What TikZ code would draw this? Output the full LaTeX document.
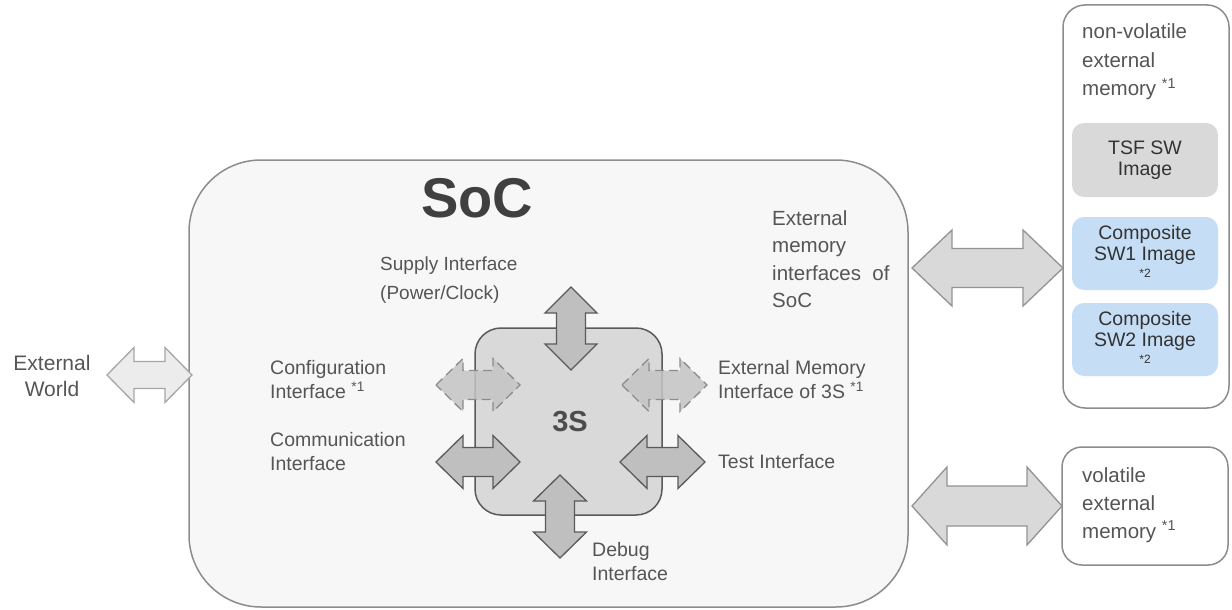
\documentclass[tikz,border=0pt]{standalone}
\usepackage{fontspec}
\setmainfont{Liberation Sans}
\definecolor{txt}{HTML}{555555}
\definecolor{soclc}{HTML}{8C8C8C}
\definecolor{socfill}{HTML}{F7F7F7}
\definecolor{ssfill}{HTML}{D9D9D9}
\definecolor{ssline}{HTML}{5A5A5A}
\definecolor{arrfill}{HTML}{BFBFBF}
\definecolor{dashfill}{HTML}{C4C4C4}
\definecolor{bluefill}{HTML}{C6DEF5}
\newcommand\HArrow[7]{%
\path[#1] (#2,#4) -- ({#2+#5},{#4-#6}) -- ({#2+#5},{#4-#7}) -- ({#3-#5},{#4-#7}) -- ({#3-#5},{#4-#6}) -- (#3,#4) -- ({#3-#5},{#4+#6}) -- ({#3-#5},{#4+#7}) -- ({#2+#5},{#4+#7}) -- ({#2+#5},{#4+#6}) -- cycle;}
\newcommand\VArrow[7]{%
\path[#1] (#2,#3) -- ({#2+#6},{#3+#5}) -- ({#2+#7},{#3+#5}) -- ({#2+#7},{#4-#5}) -- ({#2+#6},{#4-#5}) -- (#2,#4) -- ({#2-#6},{#4-#5}) -- ({#2-#7},{#4-#5}) -- ({#2-#7},{#3+#5}) -- ({#2-#6},{#3+#5}) -- cycle;}
\begin{document}
\begin{tikzpicture}[x=1pt,y=-1pt,
  lbl/.style={text=txt,font=\fontsize{19.5}{24}\selectfont,align=left,anchor=west,inner sep=0pt},
  biglbl/.style={text=txt,font=\fontsize{21}{28}\selectfont,align=left,anchor=west,inner sep=0pt},
  box/.style={anchor=north west,inner sep=0pt,outer sep=0pt},
  solidarrow/.style={fill=arrfill,draw=ssline,line width=1.3pt,line join=miter},
  dasharrow/.style={fill=dashfill,fill opacity=0.85,draw=gray!90,line width=1.3pt,dash pattern=on 9pt off 5pt},
  extarrow/.style={fill=ssfill,draw=gray!85,line width=1.3pt},
  worldarrow/.style={fill=gray!15,draw=gray!70,line width=1.3pt},
  imgtxt/.style={text=black!80,font=\fontsize{19.5}{21}\selectfont,align=center}
]
\useasboundingbox (0,0) rectangle (1232,610);
% SoC
\node[box,draw=soclc,fill=socfill,line width=1.5pt,rounded corners=72pt,minimum width=719pt,minimum height=447pt] (soc) at (189,160) {};
\node[text=black!75,font=\fontsize{56}{56}\selectfont\bfseries] (soct) at (477,198) {SoC};
% 3S
\node[box,draw=ssline,fill=ssfill,line width=1.5pt,rounded corners=26pt,minimum width=187pt,minimum height=187pt] (ss) at (475,328) {};
\node[text=black!70,font=\fontsize{29}{29}\selectfont\bfseries] (sst) at (570,422) {3S};
% inner arrows
\VArrow{solidarrow}{571}{287}{370}{26}{26}{14.5}
\VArrow{solidarrow}{560}{475}{558}{26}{26.5}{14.5}
\HArrow{dasharrow}{436}{520}{385}{27}{26.5}{14.5}
\HArrow{solidarrow}{436}{520}{462}{27}{26.5}{14.5}
\HArrow{dasharrow}{622}{707}{385}{27}{26.5}{14.5}
\HArrow{solidarrow}{620}{705}{462}{27}{26.5}{14.5}
% labels in SoC
\node[lbl,font=\fontsize{19}{29}\selectfont] (sup) at (380,280) {Supply Interface\\(Power/Clock)};
\node[lbl] (cfg) at (270,380) {Configuration\\Interface \textsuperscript{*1}};
\node[lbl] (com) at (270,452) {Communication\\Interface};
\node[lbl] (em3) at (718,380) {External Memory\\Interface of 3S \textsuperscript{*1}};
\node[lbl] (tst) at (718,462) {Test Interface};
\node[lbl] (dbg) at (592,562) {Debug\\Interface};
\node[biglbl,font=\fontsize{20.5}{27.5}\selectfont] (emi) at (772,259) {External\\memory\\interfaces~~of\\SoC};
% External world
\node[text=txt,font=\fontsize{21}{26}\selectfont,align=center,inner sep=0pt] (ew) at (52,376) {External\\World};
\HArrow{worldarrow}{107}{192}{375}{27}{27.5}{13.5}
% non-volatile memory
\node[box,draw=soclc,fill=white,line width=1.5pt,rounded corners=22pt,minimum width=166pt,minimum height=403pt] (nv) at (1063,5) {};
\node[biglbl,font=\fontsize{20.5}{28.5}\selectfont] (nvt) at (1082,62) {non-volatile\\external\\memory \textsuperscript{*1}};
\node[box,fill=ssfill,rounded corners=12pt,minimum width=146pt,minimum height=74pt] (tsf) at (1072,123) {};
\node[imgtxt] at (tsf.center) {TSF SW\\Image};
\node[box,fill=bluefill,rounded corners=12pt,minimum width=146pt,minimum height=73pt] (sw1) at (1072,217) {};
\node[imgtxt] at ([yshift=2pt]sw1.center) {Composite\\SW1 Image\\[-4pt]{\fontsize{12}{12}\selectfont *2}};
\node[box,fill=bluefill,rounded corners=12pt,minimum width=146pt,minimum height=73pt] (sw2) at (1072,303) {};
\node[imgtxt] at ([yshift=2pt]sw2.center) {Composite\\SW2 Image\\[-4pt]{\fontsize{12}{12}\selectfont *2}};
% volatile memory
\node[box,draw=soclc,fill=white,line width=1.5pt,rounded corners=20pt,minimum width=166pt,minimum height=118pt] (vm) at (1062,447) {};
\node[biglbl,font=\fontsize{20.5}{28}\selectfont] (vmt) at (1082,505) {volatile\\external\\memory \textsuperscript{*1}};
% external arrows
\HArrow{extarrow}{912}{1063}{268}{40}{38}{19.5}
\HArrow{extarrow}{912}{1062}{506}{35}{39}{20}
\end{tikzpicture}
\end{document}
